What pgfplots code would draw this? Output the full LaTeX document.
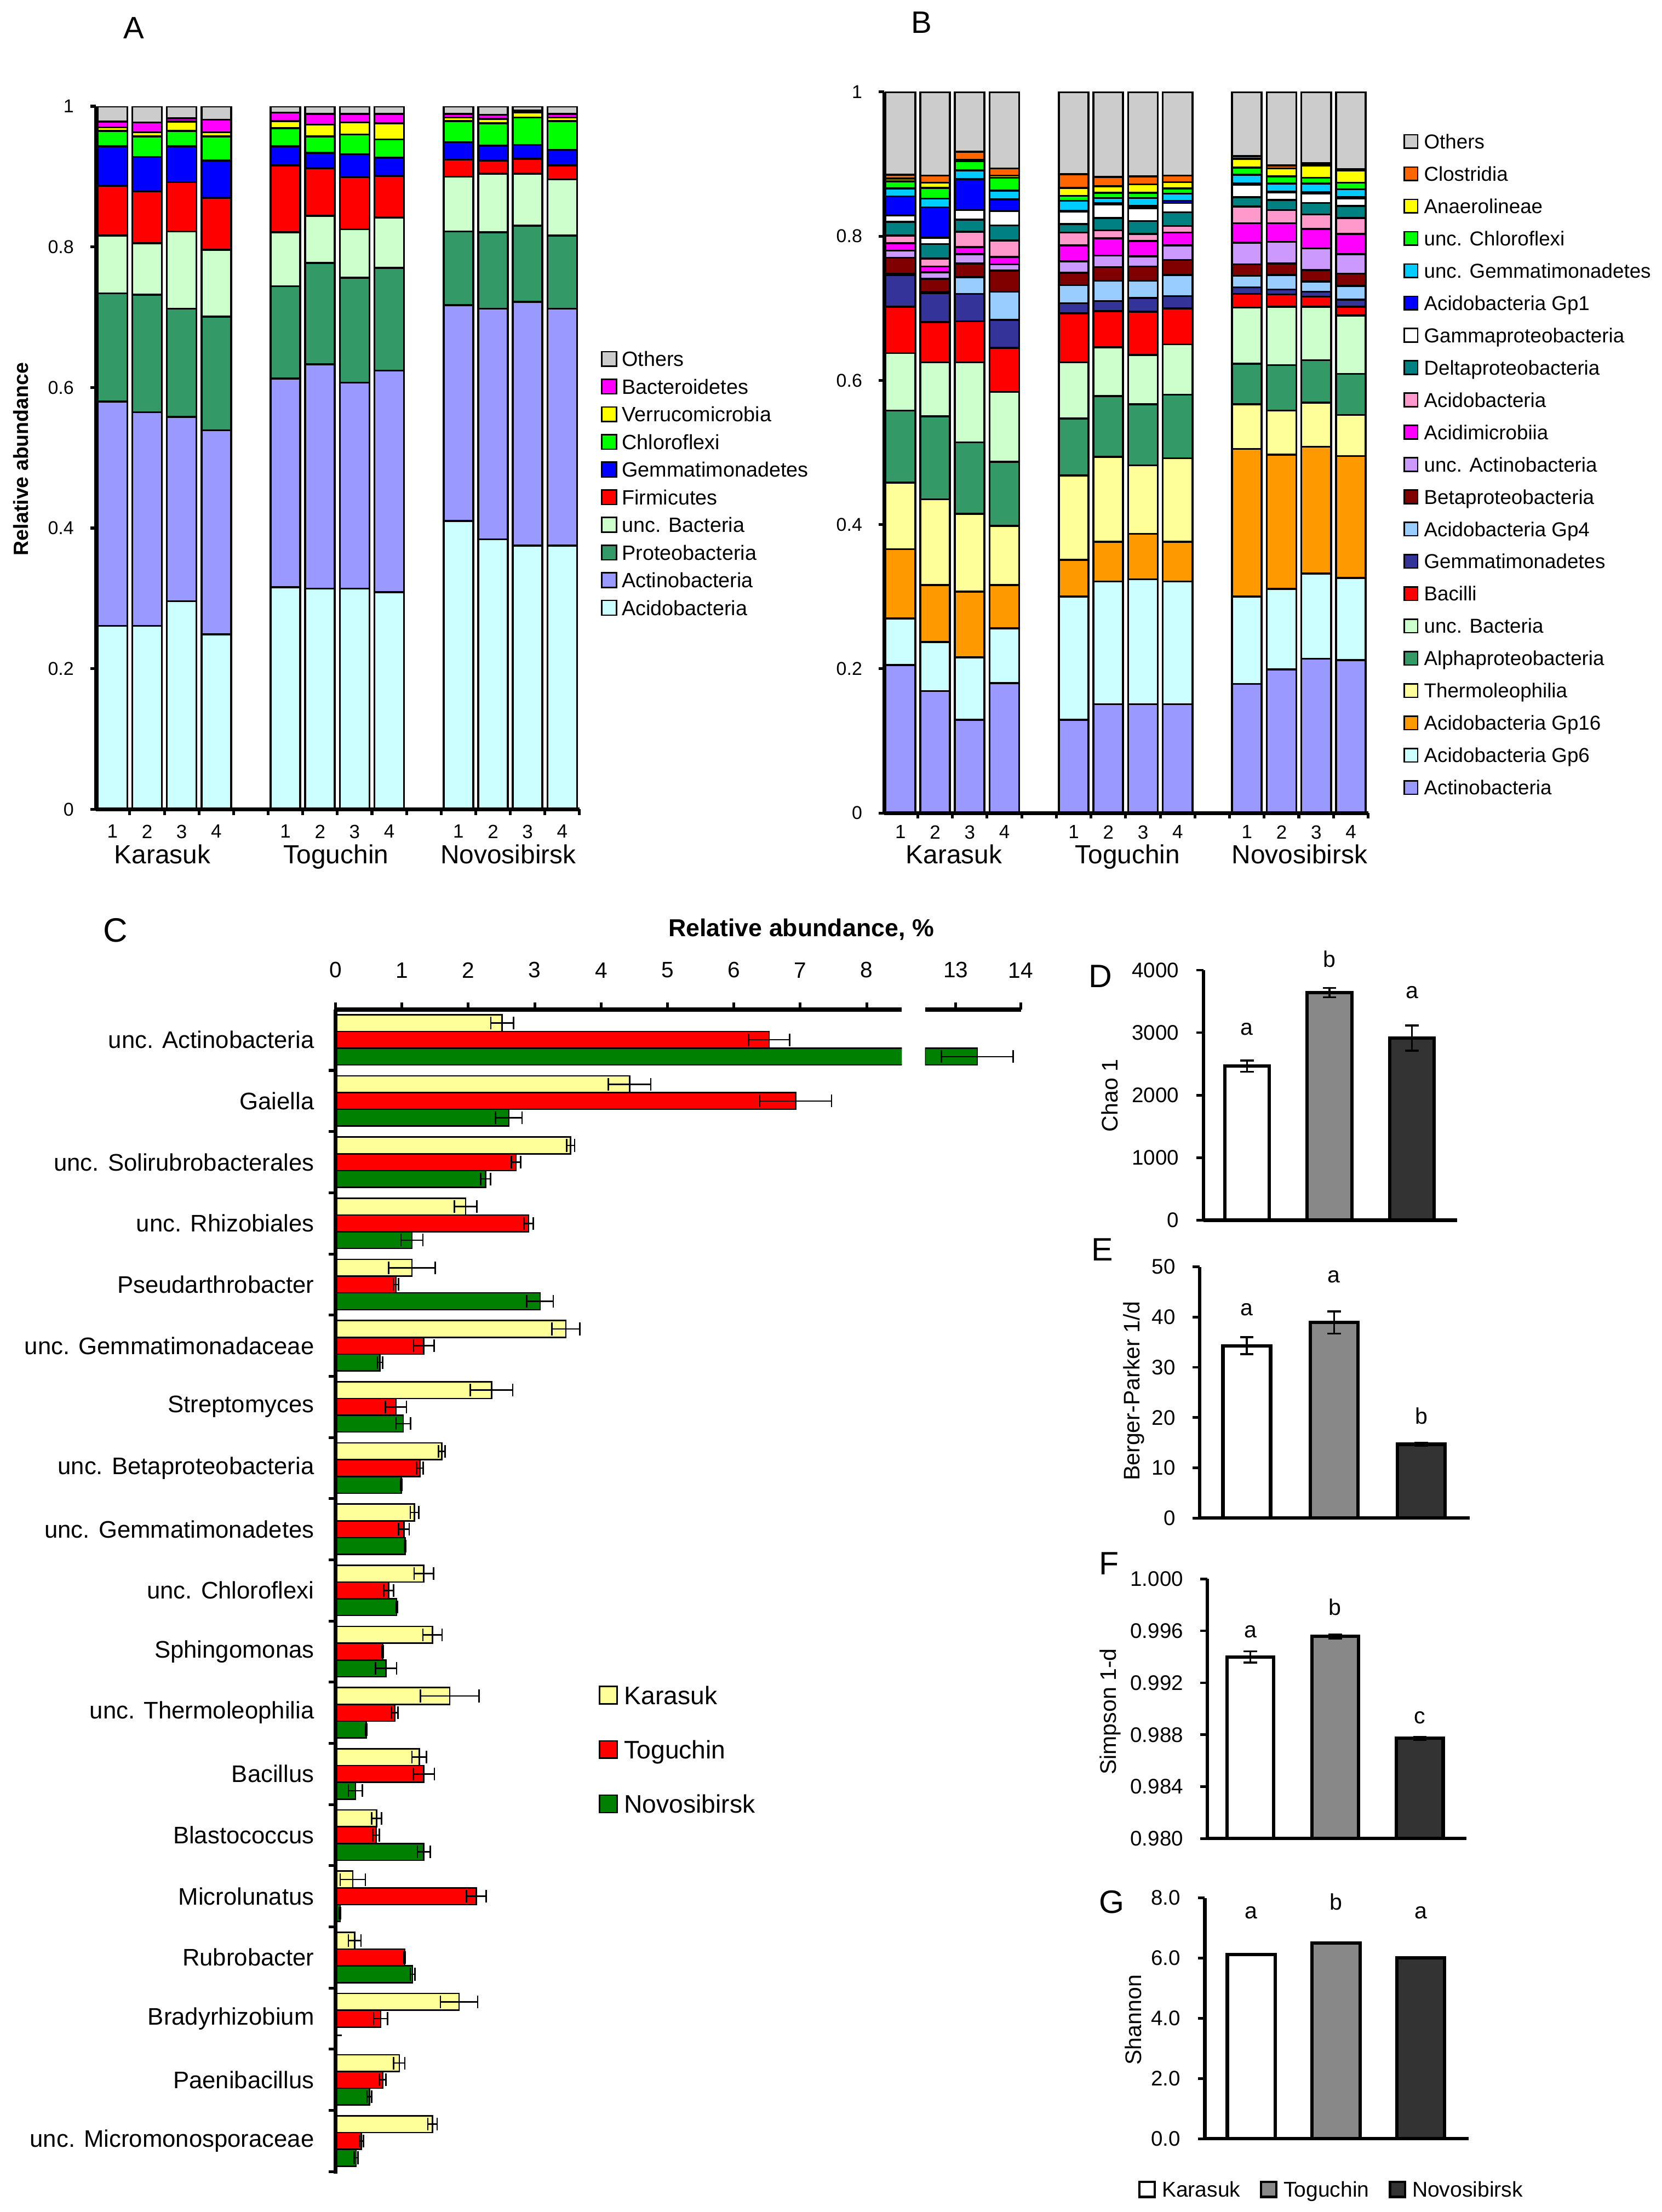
\documentclass[border=0pt]{standalone}
\usepackage{pgfplots}
\pgfplotsset{compat=1.18}
\usepackage{pgfplotstable}
\usepackage{fontspec}
\setmainfont{Liberation Sans}

\newcommand{\fs}[1]{\fontsize{#1}{#1}\selectfont}

% colours
\definecolor{cOth}{RGB}{204,204,204}
\definecolor{cMag}{RGB}{255,0,255}
\definecolor{cYel}{RGB}{255,255,0}
\definecolor{cGrn}{RGB}{0,255,0}
\definecolor{cBlu}{RGB}{0,0,255}
\definecolor{cRed}{RGB}{255,0,0}
\definecolor{cLGr}{RGB}{204,255,204}
\definecolor{cSea}{RGB}{51,153,102}
\definecolor{cLav}{RGB}{153,153,255}
\definecolor{cCya}{RGB}{204,255,255}
\definecolor{cOra}{RGB}{255,102,0}
\definecolor{cSky}{RGB}{0,204,255}
\definecolor{cTea}{RGB}{0,128,128}
\definecolor{cPnk}{RGB}{255,153,204}
\definecolor{cLPu}{RGB}{204,153,255}
\definecolor{cDRd}{RGB}{128,0,0}
\definecolor{cLBl}{RGB}{153,204,255}
\definecolor{cNav}{RGB}{51,51,153}
\definecolor{cLYe}{RGB}{255,255,153}
\definecolor{cGol}{RGB}{255,153,0}
\definecolor{cDGr}{RGB}{0,128,0}
\definecolor{cMid}{RGB}{136,136,136}
\definecolor{cDrk}{RGB}{51,51,51}

% A: phyla
\pgfplotstableread{
x  Acido Actino Proteo uncB  Firm  Gemma Chloro Verru Bacter Others
0  0.261 0.319  0.154  0.082 0.071 0.056 0.022  0.005 0.008  0.022
1  0.261 0.304  0.167  0.073 0.074 0.049 0.029  0.006 0.014  0.023
2  0.296 0.262  0.154  0.110 0.070 0.051 0.022  0.013 0.005  0.017
3  0.249 0.290  0.162  0.095 0.074 0.053 0.034  0.006 0.018  0.019
5  0.316 0.297  0.131  0.077 0.095 0.027 0.026  0.010 0.012  0.009
6  0.314 0.319  0.144  0.067 0.068 0.022 0.023  0.017 0.015  0.011
7  0.314 0.293  0.149  0.069 0.074 0.033 0.028  0.017 0.012  0.011
8  0.309 0.315  0.146  0.072 0.059 0.026 0.026  0.023 0.013  0.011
10 0.410 0.307  0.105  0.078 0.024 0.025 0.030  0.005 0.005  0.011
11 0.384 0.328  0.109  0.083 0.019 0.021 0.032  0.006 0.006  0.012
12 0.375 0.347  0.108  0.074 0.021 0.020 0.039  0.007 0.003  0.006
13 0.375 0.337  0.104  0.080 0.020 0.022 0.041  0.005 0.005  0.011
}\tabA

% B: classes
\pgfplotstableread{
x  Actino Gp6   Gp16  Thermo Alpha uncB  Bacil Gemma Gp4   Beta  uAct  Acmi  Acid  Delta Gamma Gp1   uGem  uChl  Anae  Clos  Others
0  0.205  0.065 0.096 0.092  0.100 0.080 0.064 0.044 0.002 0.022 0.010 0.010 0.011 0.019 0.009 0.026 0.011 0.010 0.004 0.005 0.115
1  0.169  0.068 0.079 0.119  0.115 0.075 0.056 0.040 0.002 0.018 0.009 0.008 0.011 0.020 0.009 0.042 0.012 0.015 0.007 0.010 0.116
2  0.129  0.087 0.091 0.108  0.099 0.111 0.057 0.038 0.023 0.019 0.013 0.010 0.021 0.017 0.013 0.043 0.012 0.013 0.002 0.011 0.083
3  0.180  0.076 0.060 0.082  0.089 0.097 0.061 0.039 0.039 0.029 0.009 0.010 0.023 0.021 0.020 0.016 0.012 0.018 0.003 0.010 0.106
5  0.129  0.171 0.051 0.117  0.079 0.078 0.068 0.014 0.025 0.017 0.016 0.022 0.018 0.012 0.017 0.001 0.014 0.007 0.011 0.019 0.114
6  0.151  0.170 0.055 0.118  0.084 0.068 0.050 0.014 0.028 0.019 0.016 0.024 0.011 0.017 0.019 0.002 0.007 0.007 0.009 0.013 0.118
7  0.151  0.173 0.063 0.095  0.085 0.068 0.060 0.019 0.024 0.020 0.014 0.021 0.010 0.018 0.018 0.003 0.011 0.007 0.012 0.011 0.117
8  0.151  0.170 0.055 0.116  0.088 0.070 0.050 0.017 0.029 0.021 0.020 0.018 0.009 0.019 0.013 0.003 0.010 0.007 0.009 0.009 0.116
10 0.179  0.121 0.205 0.062  0.056 0.078 0.019 0.009 0.016 0.016 0.030 0.027 0.023 0.013 0.017 0.002 0.012 0.010 0.012 0.004 0.089
11 0.199  0.112 0.186 0.061  0.063 0.081 0.017 0.007 0.020 0.016 0.030 0.026 0.018 0.014 0.011 0.001 0.011 0.010 0.011 0.004 0.102
12 0.214  0.118 0.176 0.061  0.059 0.074 0.014 0.007 0.014 0.016 0.030 0.027 0.020 0.016 0.013 0.002 0.012 0.008 0.017 0.003 0.099
13 0.212  0.114 0.169 0.057  0.057 0.081 0.012 0.010 0.019 0.017 0.027 0.028 0.022 0.017 0.010 0.002 0.011 0.009 0.017 0.002 0.107
}\tabB

% C: genera, mean and error (percent)
\pgfplotstableread{
i  K    Ke    T    Te    N     Ne
0  2.51 0.17  6.53 0.31  13.33 0.55
1  4.43 0.32  6.93 0.54  2.61  0.20
2  3.54 0.06  2.72 0.07  2.26  0.075
3  1.96 0.17  2.91 0.07  1.15  0.165
4  1.15 0.35  0.91 0.04  3.08  0.20
5  3.47 0.21  1.33 0.155 0.67  0.04
6  2.35 0.32  0.91 0.16  1.02  0.11
7  1.60 0.05  1.27 0.05  0.99  0.01
8  1.19 0.065 1.03 0.08  1.05  0.01
9  1.33 0.145 0.80 0.075 0.92  0.01
10 1.46 0.145 0.71 0.01  0.76  0.16
11 1.72 0.44  0.89 0.05  0.46  0.01
12 1.26 0.11  1.33 0.16  0.30  0.105
13 0.62 0.075 0.61 0.05  1.33  0.095
14 0.26 0.19  2.12 0.15  0.07  0.01
15 0.29 0.095 1.04 0.01  1.16  0.035
16 1.86 0.28  0.68 0.105 0.00  0.00
17 0.96 0.085 0.71 0.05  0.51  0.035
18 1.46 0.07  0.39 0.03  0.31  0.03
}\tabC

\pgfplotsset{
  sqlegend/.style={legend image code/.code={%
    \draw[##1, draw=black, line width=0.5pt] (0pt,-#1/2) rectangle (#1,#1/2);}},
  sqlegendthick/.style={legend image code/.code={%
    \draw[##1, draw=black, line width=0.9pt] (0pt,-#1/2) rectangle (#1,#1/2);}},
  stackax/.style={scale only axis, ybar stacked, bar width=0.855,
    ymin=0, ymax=1, enlargelimits=false, axis on top,
    axis x line*=bottom, axis y line*=left, axis line style={line width=1.35pt},
    tick align=outside, major tick length=2pt, tick style={black, line width=1pt},
    xtick={-0.5,0.5,1.5,2.5,3.5,4.5,5.5,6.5,7.5,8.5,9.5,10.5,11.5,12.5,13.5},
    xticklabels={,1,2,3,4,,1,2,3,4,,1,2,3,4},
    xticklabel style={font=\fs{6.8}, xshift=-6.14pt},
    ytick={0,0.2,0.4,0.6,0.8,1}, yticklabels={0,0.2,0.4,0.6,0.8,1},
    yticklabel style={font=\fs{6.6}, xshift=-2.3pt},
    every axis plot/.append style={draw=black, line width=0.7pt},
    legend cell align=left, reverse legend},
  divax/.style={scale only axis, ybar, enlargelimits=false, clip mode=individual,
    axis on top,
    axis x line*=bottom, axis y line*=left, axis line style={line width=1.2pt},
    tick align=outside, major tick length=2.5pt, tick style={black, line width=0.9pt},
    xtick=\empty, yticklabel style={font=\fs{7.5}, xshift=-2.6pt},
    /pgf/number format/assume math mode=true, /pgf/number format/1000 sep={},
    scaled y ticks=false,
    every axis plot/.append style={draw=black, line width=1.2pt}},
  ebarY/.style={error bars/y dir=both, error bars/y explicit,
    error bars/error bar style={line width=0.7pt, black},
    error bars/error mark options={rotate=90, line width=0.7pt, black, mark size=2.4pt}},
  ebarX/.style={error bars/x dir=both, error bars/x explicit,
    error bars/error bar style={line width=0.5pt, black},
    error bars/error mark options={rotate=90, line width=0.5pt, black, mark size=2.25pt}},
  Cax/.style={scale only axis, xbar, bar width=0.274, height=413.3pt,
    ymin=-18.53, ymax=0.495, enlargelimits=false, axis on top,
    axis x line*=top, axis line style={line width=1.4pt},
    tick align=outside, major tick length=2.5pt, tick style={black, line width=1pt},
    xticklabel style={font=\fs{7.9}, yshift=5.2pt},
    /pgf/number format/assume math mode=true},
}

\begin{document}
\begin{tikzpicture}
\useasboundingbox (0,0) rectangle (590pt,785.5pt);

% ---------------- A ----------------
\begin{axis}[stackax,
  at={(34.05pt,498.1pt)}, anchor=south west, width=171.8pt, height=249.65pt,
  xmin=-0.48, xmax=13.505,
  legend style={at={(axis description cs:1.0431,0.654)}, anchor=north west,
    draw=none, fill=none, inner sep=0pt, font=\fs{7.35}, row sep=3.55pt, column sep=1.2pt,
    nodes={inner xsep=0.5pt, inner ysep=0.5pt, text height=5.27pt, text depth=0pt}},
  sqlegend=5.2pt]
\addplot[fill=cCya] table[x=x,y=Acido]{\tabA};  \addlegendentry{Acidobacteria}
\addplot[fill=cLav] table[x=x,y=Actino]{\tabA}; \addlegendentry{Actinobacteria}
\addplot[fill=cSea] table[x=x,y=Proteo]{\tabA}; \addlegendentry{Proteobacteria}
\addplot[fill=cLGr] table[x=x,y=uncB]{\tabA};   \addlegendentry{unc. Bacteria}
\addplot[fill=cRed] table[x=x,y=Firm]{\tabA};   \addlegendentry{Firmicutes}
\addplot[fill=cBlu] table[x=x,y=Gemma]{\tabA};  \addlegendentry{Gemmatimonadetes}
\addplot[fill=cGrn] table[x=x,y=Chloro]{\tabA}; \addlegendentry{Chloroflexi}
\addplot[fill=cYel] table[x=x,y=Verru]{\tabA};  \addlegendentry{Verrucomicrobia}
\addplot[fill=cMag] table[x=x,y=Bacter]{\tabA}; \addlegendentry{Bacteroidetes}
\addplot[fill=cOth] table[x=x,y=Others]{\tabA}; \addlegendentry{Others}
\end{axis}

% ---------------- B ----------------
\begin{axis}[stackax,
  at={(314pt,496.8pt)}, anchor=south west, width=171.9pt, height=256.05pt,
  xmin=-0.467, xmax=13.505,
  xticklabel style={yshift=1.1pt},
  legend style={at={(axis description cs:1.0715,0.944)}, anchor=north west,
    draw=none, fill=none, inner sep=0pt, font=\fs{7.15}, row sep=5.35pt, column sep=1.5pt,
    nodes={inner xsep=0.5pt, inner ysep=0.5pt, text height=5.12pt, text depth=0pt}},
  sqlegend=4.8pt]
\addplot[fill=cLav] table[x=x,y=Actino]{\tabB}; \addlegendentry{Actinobacteria}
\addplot[fill=cCya] table[x=x,y=Gp6]{\tabB};    \addlegendentry{Acidobacteria Gp6}
\addplot[fill=cGol] table[x=x,y=Gp16]{\tabB};   \addlegendentry{Acidobacteria Gp16}
\addplot[fill=cLYe] table[x=x,y=Thermo]{\tabB}; \addlegendentry{Thermoleophilia}
\addplot[fill=cSea] table[x=x,y=Alpha]{\tabB};  \addlegendentry{Alphaproteobacteria}
\addplot[fill=cLGr] table[x=x,y=uncB]{\tabB};   \addlegendentry{unc. Bacteria}
\addplot[fill=cRed] table[x=x,y=Bacil]{\tabB};  \addlegendentry{Bacilli}
\addplot[fill=cNav] table[x=x,y=Gemma]{\tabB};  \addlegendentry{Gemmatimonadetes}
\addplot[fill=cLBl] table[x=x,y=Gp4]{\tabB};    \addlegendentry{Acidobacteria Gp4}
\addplot[fill=cDRd] table[x=x,y=Beta]{\tabB};   \addlegendentry{Betaproteobacteria}
\addplot[fill=cLPu] table[x=x,y=uAct]{\tabB};   \addlegendentry{unc. Actinobacteria}
\addplot[fill=cMag] table[x=x,y=Acmi]{\tabB};   \addlegendentry{Acidimicrobiia}
\addplot[fill=cPnk] table[x=x,y=Acid]{\tabB};   \addlegendentry{Acidobacteria}
\addplot[fill=cTea] table[x=x,y=Delta]{\tabB};  \addlegendentry{Deltaproteobacteria}
\addplot[fill=white] table[x=x,y=Gamma]{\tabB}; \addlegendentry{Gammaproteobacteria}
\addplot[fill=cBlu] table[x=x,y=Gp1]{\tabB};    \addlegendentry{Acidobacteria Gp1}
\addplot[fill=cSky] table[x=x,y=uGem]{\tabB};   \addlegendentry{unc. Gemmatimonadetes}
\addplot[fill=cGrn] table[x=x,y=uChl]{\tabB};   \addlegendentry{unc. Chloroflexi}
\addplot[fill=cYel] table[x=x,y=Anae]{\tabB};   \addlegendentry{Anaerolineae}
\addplot[fill=cOra] table[x=x,y=Clos]{\tabB};   \addlegendentry{Clostridia}
\addplot[fill=cOth] table[x=x,y=Others]{\tabB}; \addlegendentry{Others}
\end{axis}

% ---------------- C (left part) ----------------
\begin{axis}[Cax,
  at={(119.15pt,13.7pt)}, anchor=south west, width=201.1pt,
  xmin=0, xmax=8.53, axis y line*=left,
  xtick={0,1,2,3,4,5,6,7,8},
  ytick={-18.5,-17.5,-16.5,-15.5,-14.5,-13.5,-12.5,-11.5,-10.5,-9.5,-8.5,-7.5,-6.5,-5.5,-4.5,-3.5,-2.5,-1.5,-0.5},
  yticklabels={unc. Micromonosporaceae,Paenibacillus,Bradyrhizobium,Rubrobacter,Microlunatus,Blastococcus,Bacillus,unc. Thermoleophilia,Sphingomonas,unc. Chloroflexi,unc. Gemmatimonadetes,unc. Betaproteobacteria,Streptomyces,unc. Gemmatimonadaceae,Pseudarthrobacter,unc. Rhizobiales,unc. Solirubrobacterales,Gaiella,unc. Actinobacteria},
  yticklabel style={font=\fs{8.5}, yshift=10.86pt, xshift=-1.55pt},
  legend style={at={(axis description cs:0.4642,0.4204)}, anchor=north west,
    draw=none, fill=none, inner sep=0pt, font=\fs{9}, row sep=11.86pt, column sep=1.75pt,
    nodes={inner xsep=0.5pt, inner ysep=0.5pt, text height=6.44pt, text depth=0pt}},
  legend cell align=left, sqlegend=6.2pt]
\addplot[fill=cLYe, draw=black, line width=0.5pt, bar shift=0pt, ebarX]
  table[x=K, y expr=-\thisrow{i}+0.274, x error=Ke]{\tabC};
\addlegendentry{Karasuk}
\addplot[fill=cRed, draw=black, line width=0.5pt, bar shift=0pt, ebarX]
  table[x=T, y expr=-\thisrow{i}, x error=Te]{\tabC};
\addlegendentry{Toguchin}
\addplot[fill=cDGr, draw=black, line width=0.5pt, bar shift=0pt, ebarX]
  table[x=N, y expr=-\thisrow{i}-0.274, x error=Ne]{\tabC};
\addlegendentry{Novosibirsk}
\end{axis}

% ---------------- C (after the axis break) ----------------
\begin{axis}[Cax,
  at={(328.5pt,13.7pt)}, anchor=south west, width=34pt,
  xmin=12.53, xmax=14, axis y line=none,
  xtick={13,14}, ytick=\empty]
\addplot[fill=cDGr, draw=black, line width=0.5pt, bar shift=0pt, ebarX]
  coordinates {(13.33,-0.274) +- (0.55,0)};
\end{axis}

% ---------------- D ----------------
\begin{axis}[divax,
  at={(427.3pt,352.2pt)}, anchor=south west, width=90.2pt, height=88.8pt,
  bar width=0.54, xmin=-0.53, xmax=2.55, ymin=0, ymax=4000,
  ytick={0,1000,2000,3000,4000}]
\addplot[fill=white, bar shift=0pt, ebarY] coordinates {(0,2463) +- (0,90)};
\addplot[fill=cMid, bar shift=0pt, ebarY] coordinates {(1,3640) +- (0,74)};
\addplot[fill=cDrk, bar shift=0pt, ebarY] coordinates {(2,2912) +- (0,202)};
\node[font=\fs{8}] at (axis cs:0,3056) {a};
\node[font=\fs{8}] at (axis cs:1,4180) {b};
\node[font=\fs{8}] at (axis cs:2,3640) {a};
\end{axis}

% ---------------- E ----------------
\begin{axis}[divax,
  at={(426pt,246.4pt)}, anchor=south west, width=96pt, height=89.25pt,
  bar width=0.545, xmin=-0.54, xmax=2.556, ymin=0, ymax=50,
  ytick={0,10,20,30,40,50}]
\addplot[fill=white, bar shift=0pt, ebarY] coordinates {(0,34.3) +- (0,1.7)};
\addplot[fill=cMid, bar shift=0pt, ebarY] coordinates {(1,38.9) +- (0,2.2)};
\addplot[fill=cDrk, bar shift=0pt, ebarY] coordinates {(2,14.7) +- (0,0.3)};
\node[font=\fs{8}] at (axis cs:0,41.5) {a};
\node[font=\fs{8}] at (axis cs:1,48.0) {a};
\node[font=\fs{8}] at (axis cs:2,20.3) {b};
\end{axis}

% ---------------- F ----------------
\begin{axis}[divax,
  at={(428.8pt,132.6pt)}, anchor=south west, width=91.85pt, height=92.2pt,
  bar width=0.55, xmin=-0.505, xmax=2.547, ymin=0.980, ymax=1.000,
  ytick={0.980,0.984,0.988,0.992,0.996,1.000},
  /pgf/number format/fixed, /pgf/number format/fixed zerofill,
  /pgf/number format/precision=3]
\addplot[fill=white, bar shift=0pt, ebarY] coordinates {(0,0.99399) +- (0,0.00044)};
\addplot[fill=cMid, bar shift=0pt, ebarY] coordinates {(1,0.99557) +- (0,0.00015)};
\addplot[fill=cDrk, bar shift=0pt, ebarY] coordinates {(2,0.98772) +- (0,0.0001)};
\node[font=\fs{8}] at (axis cs:0,0.99595) {a};
\node[font=\fs{8}] at (axis cs:1,0.99785) {b};
\node[font=\fs{8}] at (axis cs:2,0.98930) {c};
\end{axis}

% ---------------- G ----------------
\begin{axis}[divax,
  at={(427.85pt,26pt)}, anchor=south west, width=93.6pt, height=85.55pt,
  bar width=0.567, xmin=-0.549, xmax=2.564, ymin=0, ymax=8,
  ytick={0,2,4,6,8},
  /pgf/number format/fixed, /pgf/number format/fixed zerofill,
  /pgf/number format/precision=1,
  legend style={at={(axis description cs:-0.2548,-0.2104)}, anchor=west,
    draw=none, fill=none, inner sep=0pt, font=\fs{7.6}, column sep=1.6pt,
    /tikz/every even column/.append style={column sep=6.4pt},
    nodes={inner xsep=0.5pt, inner ysep=0.5pt, text height=5.44pt, text depth=0pt}},
  legend columns=3, legend cell align=left, sqlegendthick=5.4pt]
\addplot[fill=white, bar shift=0pt, ebarY] coordinates {(0,6.12) +- (0,0.02)};
\addlegendentry{Karasuk}
\addplot[fill=cMid, bar shift=0pt, ebarY] coordinates {(1,6.50) +- (0,0.02)};
\addlegendentry{Toguchin}
\addplot[fill=cDrk, bar shift=0pt, ebarY] coordinates {(2,6.01) +- (0,0.02)};
\addlegendentry{Novosibirsk}
\node[font=\fs{8}] at (axis cs:0,7.51) {a};
\node[font=\fs{8}] at (axis cs:1,7.86) {b};
\node[font=\fs{8}] at (axis cs:2,7.51) {a};
\end{axis}

% ---------------- texts ----------------
\node[font=\fs{11}] at (47.5pt,775.5pt) {A};
\node[font=\fs{11}] at (327.25pt,777.5pt) {B};
\node[font=\fs{12}] at (41pt,455.2pt) {C};
\node[font=\fs{11.5}] at (390.85pt,438.8pt) {D};
\node[font=\fs{11.5}] at (391.35pt,341.75pt) {E};
\node[font=\fs{11.5}] at (393.75pt,230.25pt) {F};
\node[font=\fs{11.5}] at (394.75pt,110pt) {G};

\node[font=\bfseries\fs{7.3}, rotate=90, anchor=base] at (10.1pt,622.5pt) {Relative abundance};
\node[font=\bfseries\fs{8.7}, anchor=base] at (284.5pt,452.9pt) {Relative abundance, \%};

\foreach \x/\t in {57.65/Karasuk, 119.35/Toguchin, 180.5/Novosibirsk,
                   338.75/Karasuk, 400.4/Toguchin, 461.5/Novosibirsk}
  \node[font=\fs{9.3}, anchor=base] at (\x pt,478.75pt) {\t};

\node[font=\fs{8}, rotate=90, anchor=base] at (396.9pt,396.5pt) {Chao 1};
\node[font=\fs{8}, rotate=90, anchor=base] at (404.65pt,291.5pt) {Berger-Parker 1/d};
\node[font=\fs{8}, rotate=90, anchor=base] at (396.4pt,177.7pt) {Simpson 1-d};
\node[font=\fs{8}, rotate=90, anchor=base] at (405.2pt,68.25pt) {Shannon};
\end{tikzpicture}
\end{document}
